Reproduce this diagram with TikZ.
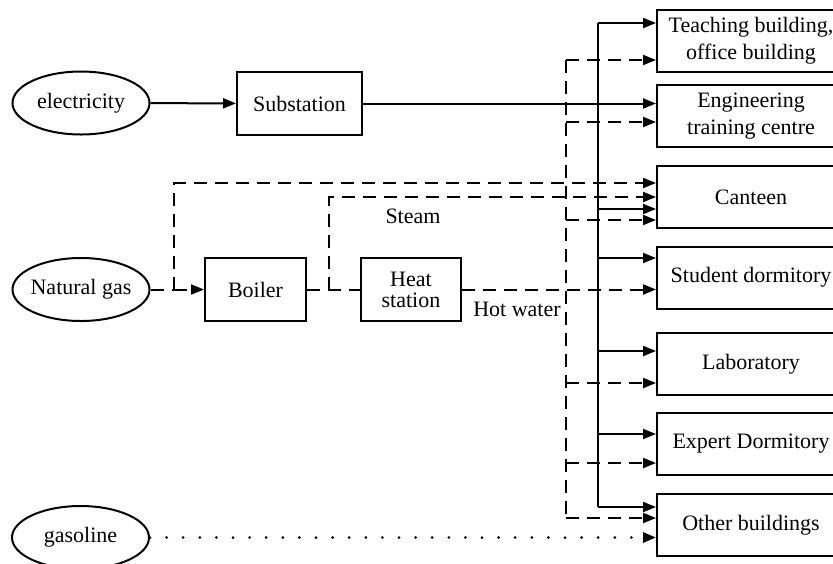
\documentclass[tikz,border=0pt]{standalone}
\usepackage{fontspec}
\setmainfont{Liberation Serif}
\usetikzlibrary{arrows.meta,shapes.geometric}

\begin{document}
\begin{tikzpicture}[x=0.5pt,y=-0.5pt,>={Triangle[length=6.5pt,width=5pt]},line width=1pt,
  font=\fontsize{11}{13.5}\selectfont,
  source node/.style={ellipse,draw,inner sep=0pt,inner xsep=-1pt,minimum width=68.5pt,minimum height=31.5pt},
  plant node/.style={rectangle,draw,inner sep=1pt,minimum height=31.5pt,align=center},
  load node/.style={rectangle,draw,minimum width=94pt,minimum height=31pt,align=center},
  gas line/.style={dash pattern=on 6.5pt off 4pt},
  oil line/.style={line width=1.5pt,dash pattern=on 0pt off 8.3pt,line cap=round}]

  \useasboundingbox (0,0) rectangle (833,563);
  \clip (0,0) rectangle (833,563);

  % sources
  \node[source node] (elec) at (81,103) {electricity};
  \node[source node] (gas) at (81,289.5) {Natural gas};
  \node[source node] (oil) at (80.5,537.5) {gasoline};

  % conversion
  \node[plant node,minimum width=62.5pt] (sub) at (299.5,103.5) {Substation};
  \node[plant node,minimum width=50.5pt] (boiler) at (255.5,289.5) {Boiler};
  \node[plant node,minimum width=50pt] (heat) at (411,289.5) {Heat\\[-3pt]station};

  % buildings
  \node[load node] (teach) at (751,41) {Teaching building,\\office building};
  \node[load node] (eng) at (751,116) {Engineering\\training centre};
  \node[load node] (canteen) at (751,197) {Canteen};
  \node[load node] (student) at (751,277.5) {Student dormitory};
  \node[load node] (lab) at (751,364) {Laboratory};
  \node[load node] (expert) at (751,444) {Expert Dormitory};
  \node[load node] (other) at (751,525) {Other buildings};

  \node (steam) at (413,216) {Steam};
  \node (hot) at (517,309) {Hot water};

  % electricity
  \draw[->] (elec) -- (sub);
  \draw[->] (sub) -- (sub -| eng.west);
  \coordinate (ebus top) at (598,23);
  \coordinate (ebus bot) at (598,507);
  \draw (ebus top) -- (ebus bot);
  \foreach \n/\s in {teach/9pt,canteen/-6pt,student/9.75pt,lab/6.5pt,expert/5pt,other/9pt}{
    \path ([yshift=\s]\n.west) coordinate (tip);
    \draw[->] (tip -| ebus top) -- (tip);
  }

  % natural gas, steam, hot water
  \coordinate (gas split) at (174,289.5);
  \coordinate (steam split) at (329,289.5);
  \draw[gas line] (gas) -- (gas split);
  \draw[gas line,->] (gas split) -- (boiler);
  \draw[gas line,->] (gas split) |- ([yshift=7pt]canteen.west);
  \draw[gas line] (boiler) -- (heat);
  \draw[gas line,->] (steam split) |- (canteen.west);
  \draw[gas line,->] (heat) -- (heat -| student.west);
  \coordinate (hbus top) at (566,60);
  \coordinate (hbus bot) at (566,518);
  \draw[gas line] (hbus top) -- (hbus bot);
  \foreach \n/\s in {teach/-9.5pt,eng/-3pt,canteen/-11.5pt,lab/-9.5pt,expert/-9.5pt,other/3.5pt}{
    \path ([yshift=\s]\n.west) coordinate (tip);
    \draw[gas line,->] (tip -| hbus top) -- (tip);
  }

  % gasoline
  \draw[oil line,->] (oil) -- (oil -| other.west);
\end{tikzpicture}
\end{document}
